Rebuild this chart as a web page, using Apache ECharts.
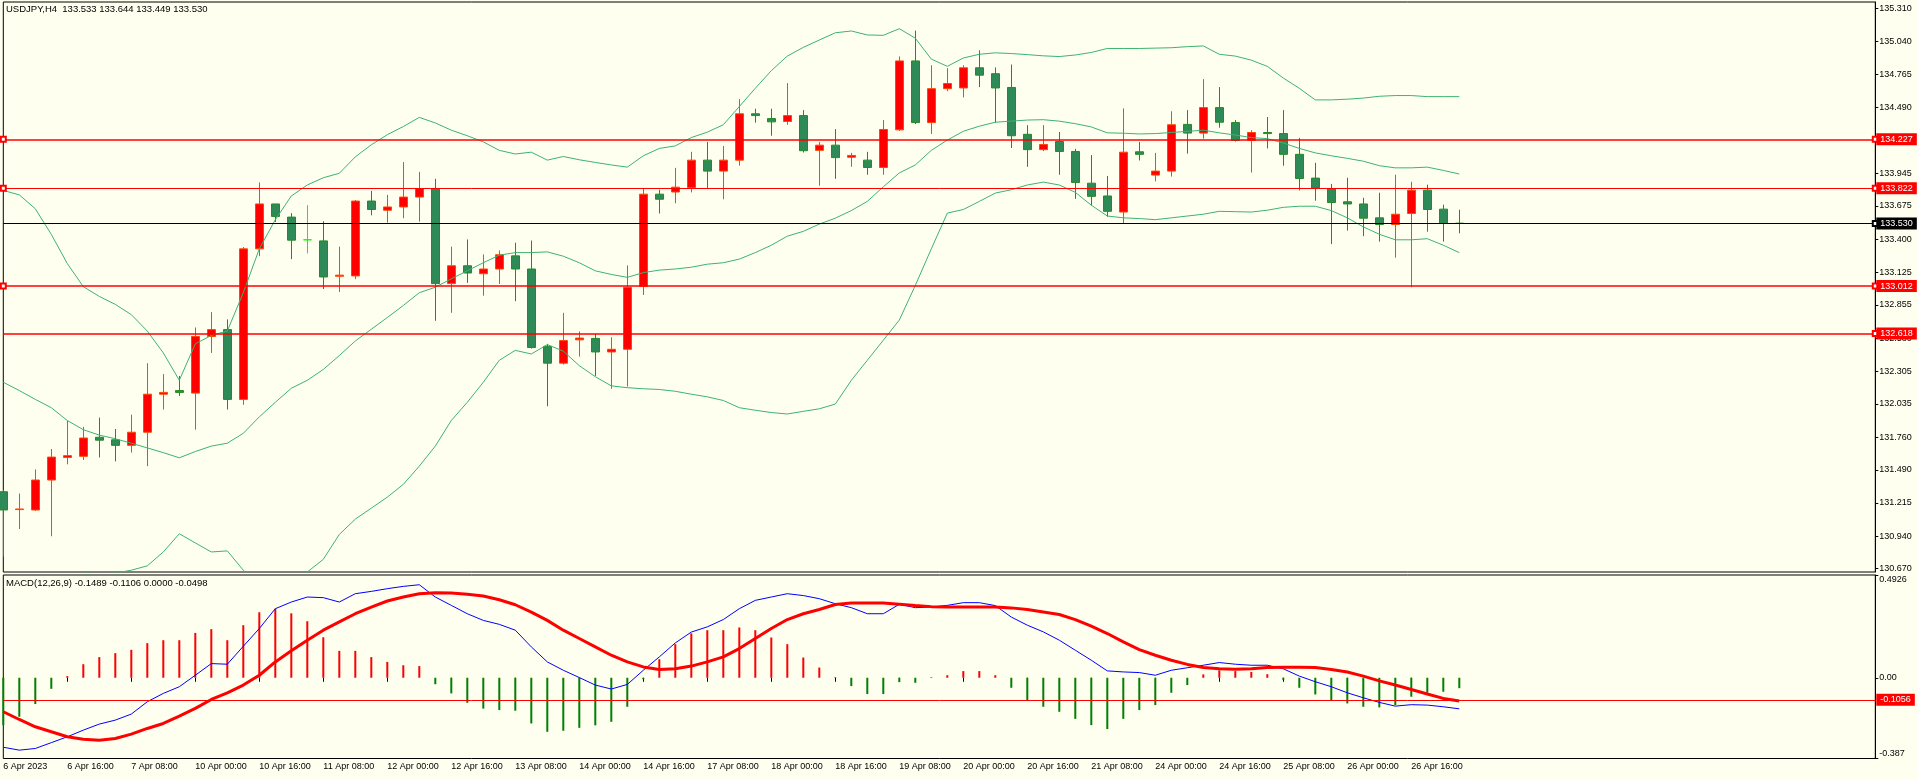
<!DOCTYPE html>
<html><head><meta charset="utf-8">
<script src="https://cdn.jsdelivr.net/npm/echarts@6/dist/echarts.min.js"></script>
<style>html,body{margin:0;padding:0;background:#FFFFF0;}#c{width:1918px;height:780px;}</style>
</head><body><div id="c"></div>
<script>
// ---- data (H4 bars, 6 Apr 2023 00:00 .. 27 Apr 04:00) ----
const opens = [131.308,131.160,131.157,131.405,131.592,131.601,131.759,131.738,131.692,131.801,132.116,132.146,132.125,132.594,132.651,132.073,133.320,133.692,133.583,133.395,133.386,133.093,133.096,133.716,133.640,133.667,133.749,133.819,133.032,133.180,133.114,133.153,133.262,133.153,132.512,132.373,132.566,132.578,132.466,132.488,133.008,133.773,133.791,133.828,134.055,133.964,134.055,134.439,134.399,134.375,134.424,134.136,134.179,134.079,134.055,133.994,134.306,134.877,134.366,134.647,134.653,134.820,134.771,134.657,134.269,134.142,134.209,134.127,133.864,133.758,133.625,134.124,133.931,133.964,134.351,134.279,134.490,134.366,134.218,134.284,134.275,134.103,133.906,133.819,133.710,133.692,133.577,133.522,133.613,133.806,133.649,133.533];
const highs = [131.323,131.293,131.493,131.662,131.898,131.846,131.922,131.828,131.946,132.373,132.282,132.267,132.669,132.796,132.736,133.335,133.870,133.692,133.616,133.682,133.549,133.338,133.725,133.800,133.767,134.039,133.958,133.900,133.338,133.398,133.274,133.307,133.371,133.389,132.533,132.790,132.636,132.618,132.588,133.183,133.819,133.810,133.991,134.124,134.206,134.172,134.560,134.481,134.481,134.693,134.469,134.206,134.312,134.115,134.124,134.387,134.914,135.128,134.841,134.817,134.841,134.965,134.823,134.847,134.345,134.345,134.288,134.149,134.097,133.924,134.484,134.206,134.115,134.460,134.469,134.726,134.660,134.387,134.303,134.412,134.469,134.239,134.033,133.858,133.909,133.743,133.785,133.934,133.876,133.852,133.686,133.644];
const lows = [130.770,130.999,131.148,130.939,131.535,131.571,131.592,131.559,131.632,131.520,131.989,132.101,131.822,132.458,131.989,132.028,133.259,133.543,133.235,133.283,132.987,132.963,133.069,133.598,133.537,133.574,133.546,132.724,132.790,133.038,132.932,133.029,132.887,132.494,132.016,132.361,132.427,132.267,132.161,132.179,132.938,133.613,133.698,133.788,133.825,133.731,134.009,134.366,134.257,134.348,134.118,133.843,133.900,134.000,133.934,133.934,134.297,134.354,134.272,134.626,134.575,134.660,134.366,134.155,134.000,134.130,133.934,133.734,133.679,133.586,133.531,134.052,133.879,133.919,134.109,134.233,134.324,134.209,133.952,134.152,134.009,133.804,133.719,133.359,133.471,133.425,133.380,133.247,133.002,133.462,133.380,133.449];
const closes = [131.157,131.165,131.405,131.595,131.607,131.753,131.735,131.692,131.801,132.116,132.131,132.131,132.594,132.651,132.073,133.320,133.692,133.589,133.392,133.395,133.087,133.102,133.716,133.646,133.667,133.749,133.819,133.032,133.180,133.120,133.153,133.271,133.153,132.503,132.373,132.560,132.581,132.466,132.488,133.001,133.773,133.731,133.831,134.055,133.964,134.055,134.439,134.424,134.372,134.424,134.133,134.179,134.076,134.094,133.994,134.309,134.877,134.366,134.647,134.690,134.820,134.759,134.653,134.257,134.142,134.185,134.127,133.870,133.755,133.631,134.121,134.103,133.964,134.348,134.279,134.490,134.369,134.218,134.284,134.275,134.103,133.903,133.825,133.704,133.692,133.574,133.522,133.607,133.806,133.646,133.531,133.530];

const bbUpper = [133.804,133.767,133.652,133.440,133.198,133.007,132.926,132.860,132.775,132.639,132.458,132.231,132.533,132.603,132.639,132.957,133.320,133.561,133.758,133.849,133.909,133.946,134.082,134.182,134.266,134.333,134.409,134.363,134.303,134.257,134.206,134.136,134.106,134.121,134.055,134.085,134.058,134.036,134.015,133.997,134.091,134.152,134.173,134.242,134.287,134.348,134.499,134.650,134.796,134.917,134.989,135.050,135.110,135.125,135.092,135.089,135.144,135.065,134.892,134.832,134.901,134.932,134.944,134.938,134.929,134.919,134.913,134.926,134.947,134.980,134.980,134.980,134.983,134.986,134.995,135.001,134.932,134.917,134.883,134.832,134.735,134.650,134.554,134.554,134.560,134.569,134.584,134.590,134.590,134.581,134.581,134.581];
const bbMiddle = [132.215,132.146,132.073,132.004,131.898,131.822,131.777,131.747,131.710,131.671,131.632,131.589,131.641,131.686,131.710,131.792,131.928,132.049,132.165,132.231,132.321,132.436,132.557,132.654,132.751,132.851,132.957,133.002,133.072,133.138,133.205,133.268,133.289,133.289,133.295,133.259,133.205,133.138,133.108,133.084,133.123,133.144,133.153,133.168,133.193,133.205,133.235,133.289,133.350,133.425,133.465,133.525,133.574,133.637,133.713,133.834,133.949,134.015,134.136,134.221,134.294,134.336,134.369,134.378,134.387,134.390,134.378,134.357,134.330,134.281,134.278,134.272,134.275,134.284,134.293,134.303,134.281,134.263,134.242,134.233,134.197,134.152,134.115,134.091,134.070,134.046,134.009,133.991,133.991,133.997,133.970,133.940];
const bbLower = [130.626,130.525,130.494,130.568,130.598,130.637,130.628,130.634,130.658,130.694,130.809,130.960,130.884,130.809,130.818,130.658,130.536,130.537,130.580,130.643,130.748,130.954,131.081,131.172,131.263,131.369,131.520,131.686,131.898,132.049,132.215,132.397,132.479,132.449,132.527,132.473,132.352,132.261,132.185,132.170,132.161,132.155,132.140,132.116,132.094,132.064,132.004,131.983,131.964,131.952,131.974,131.995,132.034,132.231,132.397,132.563,132.730,133.017,133.320,133.616,133.646,133.713,133.782,133.810,133.849,133.873,133.849,133.788,133.682,133.592,133.577,133.571,133.562,133.577,133.592,133.607,133.631,133.628,133.625,133.640,133.664,133.673,133.673,133.637,133.577,133.502,133.441,133.395,133.395,133.404,133.350,133.289];

const macdHist = [-0.227,-0.187,-0.126,-0.053,0.008,0.065,0.099,0.118,0.134,0.166,0.180,0.180,0.215,0.233,0.180,0.252,0.314,0.331,0.309,0.271,0.194,0.129,0.129,0.099,0.076,0.060,0.056,-0.031,-0.075,-0.120,-0.148,-0.155,-0.158,-0.219,-0.259,-0.254,-0.240,-0.228,-0.211,-0.139,-0.007,0.089,0.161,0.213,0.228,0.228,0.241,0.228,0.193,0.161,0.097,0.049,0.003,-0.040,-0.078,-0.078,-0.021,-0.024,0.003,0.012,0.032,0.032,0.012,-0.048,-0.107,-0.139,-0.163,-0.197,-0.227,-0.246,-0.197,-0.155,-0.131,-0.072,-0.035,0.016,0.036,0.032,0.028,0.017,-0.010,-0.048,-0.080,-0.107,-0.123,-0.139,-0.142,-0.131,-0.091,-0.072,-0.067,-0.050];
const macdMain = [-0.333,-0.347,-0.339,-0.311,-0.283,-0.251,-0.222,-0.203,-0.174,-0.115,-0.075,-0.043,0.012,0.068,0.065,0.151,0.236,0.331,0.363,0.387,0.384,0.363,0.403,0.414,0.427,0.438,0.446,0.387,0.347,0.307,0.275,0.256,0.228,0.148,0.076,0.036,0.001,-0.035,-0.054,-0.032,0.036,0.100,0.167,0.219,0.244,0.279,0.331,0.371,0.387,0.403,0.394,0.379,0.355,0.336,0.307,0.307,0.352,0.336,0.339,0.347,0.360,0.360,0.346,0.291,0.252,0.220,0.180,0.132,0.084,0.033,0.028,0.025,0.012,0.036,0.048,0.060,0.073,0.065,0.060,0.060,0.043,0.008,-0.019,-0.043,-0.072,-0.096,-0.118,-0.136,-0.129,-0.131,-0.139,-0.149];
const macdSignal = [-0.163,-0.200,-0.235,-0.259,-0.283,-0.295,-0.299,-0.291,-0.270,-0.243,-0.219,-0.184,-0.147,-0.104,-0.072,-0.035,0.012,0.076,0.129,0.180,0.228,0.268,0.307,0.339,0.368,0.387,0.403,0.408,0.406,0.400,0.392,0.374,0.350,0.315,0.275,0.228,0.188,0.148,0.108,0.076,0.052,0.040,0.043,0.056,0.076,0.100,0.140,0.188,0.236,0.279,0.307,0.327,0.351,0.358,0.358,0.358,0.352,0.346,0.341,0.339,0.339,0.339,0.339,0.335,0.327,0.315,0.303,0.279,0.247,0.212,0.172,0.135,0.108,0.084,0.064,0.049,0.043,0.041,0.043,0.049,0.051,0.051,0.049,0.040,0.028,0.008,-0.015,-0.035,-0.056,-0.078,-0.099,-0.111];

const xTickLabels = ["6 Apr 2023","6 Apr 16:00","7 Apr 08:00","10 Apr 00:00","10 Apr 16:00","11 Apr 08:00","12 Apr 00:00","12 Apr 16:00","13 Apr 08:00","14 Apr 00:00","14 Apr 16:00","17 Apr 08:00","18 Apr 00:00","18 Apr 16:00","19 Apr 08:00","20 Apr 00:00","20 Apr 16:00","21 Apr 08:00","24 Apr 00:00","24 Apr 16:00","25 Apr 08:00","26 Apr 00:00","26 Apr 16:00"];
const priceTicks = [130.670,130.940,131.215,131.490,131.760,132.035,132.305,132.580,132.855,133.125,133.400,133.675,133.945,134.215,134.490,134.765,135.040,135.310];
const macdTicks = [-0.387,0,0.4926];
const priceLevels = [134.227,133.822,133.012,132.618];
const lastPrice = 133.530;
const macdLevel = -0.1056;
const headerText = 'USDJPY,H4  133.533 133.644 133.449 133.530';
const macdText = 'MACD(12,26,9) -0.1489 -0.1106 0.0000 -0.0498';

// ---- layout ----
const SLOTS = 118; // bar slots across the plot incl. right-side shift space
const TICK_EVERY = 4;
const cats = Array.from({length: SLOTS}, (_, i) => String(i));
const candleData = opens.map((o, i) => [o, closes[i], lows[i], highs[i]]);
const FONT = 'Liberation Sans';
const tickFn = (i) => i % TICK_EVERY === 0 && (i / TICK_EVERY) < xTickLabels.length;

const levelItems = priceLevels.map((v, k) => ({
  yAxis: v,
  symbol: k === 3 ? 'none' : 'emptyRect',
  lineStyle: {color: '#FF0000', width: k === 1 ? 1 : 1.5, type: 'solid'},
  label: {backgroundColor: '#FF0000', formatter: v.toFixed(3)}
}));
levelItems.push({
  yAxis: lastPrice, symbol: 'none',
  lineStyle: {color: '#000000', width: 1.2, type: 'solid'},
  label: {backgroundColor: '#000000', formatter: lastPrice.toFixed(3)}
});

const chart = echarts.init(document.getElementById('c'), null, {renderer: 'canvas'});
chart.setOption({
  animation: false,
  backgroundColor: '#FFFFF0',
  textStyle: {fontFamily: FONT},
  title: [
    {text: headerText, left: 6, top: 4, padding: 0, textStyle: {fontFamily: FONT, fontSize: 9.5, fontWeight: 'normal', color: '#000'}},
    {text: macdText, left: 6, top: 578, padding: 0, textStyle: {fontFamily: FONT, fontSize: 9.5, fontWeight: 'normal', color: '#000'}}
  ],
  grid: [
    {left: 3.3, top: 2, width: 1872, height: 570, show: true, borderColor: '#000', borderWidth: 1, backgroundColor: 'transparent'},
    {left: 3.3, top: 575, width: 1872, height: 183.5, show: true, borderColor: '#000', borderWidth: 1, backgroundColor: 'transparent'}
  ],
  xAxis: [
    {type: 'category', gridIndex: 0, data: cats, boundaryGap: false,
     axisLine: {show: false}, axisTick: {show: false}, axisLabel: {show: false}, splitLine: {show: false}},
    {type: 'category', gridIndex: 1, data: cats, boundaryGap: false,
     axisLine: {show: false},
     axisTick: {show: true, interval: tickFn, length: 4, lineStyle: {color: '#000', width: 1}},
     axisLabel: {show: true, interval: tickFn, align: 'left', margin: 4, fontSize: 9, color: '#000', fontFamily: FONT,
                 formatter: (v, i) => xTickLabels[Math.round(Number(v) / TICK_EVERY)] || ''},
     splitLine: {show: false}}
  ],
  yAxis: [
    {type: 'value', gridIndex: 0, position: 'right', min: 130.643, max: 135.365, scale: true,
     axisLine: {show: true, lineStyle: {color: '#000', width: 1}},
     axisTick: {show: true, length: 3, customValues: priceTicks, lineStyle: {color: '#000'}},
     axisLabel: {show: true, customValues: priceTicks, margin: 4, fontSize: 9, color: '#000', fontFamily: FONT,
                 formatter: v => Number(v).toFixed(3)},
     splitLine: {show: false}},
    {type: 'value', gridIndex: 1, position: 'right', min: -0.387, max: 0.4926,
     axisLine: {show: true, lineStyle: {color: '#000', width: 1}},
     axisTick: {show: true, length: 3, customValues: macdTicks, lineStyle: {color: '#000'}},
     axisLabel: {show: true, customValues: macdTicks, margin: 4, fontSize: 9, color: '#000', fontFamily: FONT,
                 verticalAlignMinLabel: 'bottom', verticalAlignMaxLabel: 'top',
                 formatter: v => (Number(v) === 0 ? '0.00' : String(v))},
     splitLine: {show: false}}
  ],
  series: [
    {type: 'candlestick', name: 'USDJPY', xAxisIndex: 0, yAxisIndex: 0, data: candleData, barWidth: 9,
     itemStyle: {color: '#FF0000', color0: '#2E8B57', borderColor: '#FF4500', borderColor0: '#228B22', borderWidth: 1, borderColorDoji: '#00FF00'},
     markLine: {silent: true, animation: false, precision: 3, symbol: ['emptyRect', 'emptyRect'], symbolSize: 5,
       label: {show: true, position: 'end', distance: 1, color: '#fff', fontSize: 9, fontFamily: FONT, padding: [2, 4, 1, 4]},
       data: levelItems}},
    {type: 'line', name: 'BB upper', xAxisIndex: 0, yAxisIndex: 0, data: bbUpper, symbol: 'none', lineStyle: {color: '#3CB371', width: 1}},
    {type: 'line', name: 'BB middle', xAxisIndex: 0, yAxisIndex: 0, data: bbMiddle, symbol: 'none', lineStyle: {color: '#3CB371', width: 1}},
    {type: 'line', name: 'BB lower', xAxisIndex: 0, yAxisIndex: 0, data: bbLower, symbol: 'none', lineStyle: {color: '#3CB371', width: 1}},
    {type: 'bar', name: 'Histogram', xAxisIndex: 1, yAxisIndex: 1, data: macdHist, barWidth: 2,
     itemStyle: {color: p => (p.value >= 0 ? '#FF0000' : '#008000')}},
    {type: 'line', name: 'MACD', xAxisIndex: 1, yAxisIndex: 1, data: macdMain, symbol: 'none', lineStyle: {color: '#0000FF', width: 1}},
    {type: 'line', name: 'Signal', xAxisIndex: 1, yAxisIndex: 1, data: macdSignal, symbol: 'none', lineStyle: {color: '#FF0000', width: 3},
     markLine: {silent: true, animation: false, precision: 4, symbol: 'none',
       lineStyle: {color: '#FF0000', width: 1, type: 'solid'},
       label: {show: true, position: 'end', distance: 1, color: '#fff', backgroundColor: '#FF0000', fontSize: 9, fontFamily: FONT, padding: [2, 4, 1, 4],
               formatter: String(macdLevel)},
       data: [{yAxis: macdLevel}]}}
  ]
});
</script></body></html>
